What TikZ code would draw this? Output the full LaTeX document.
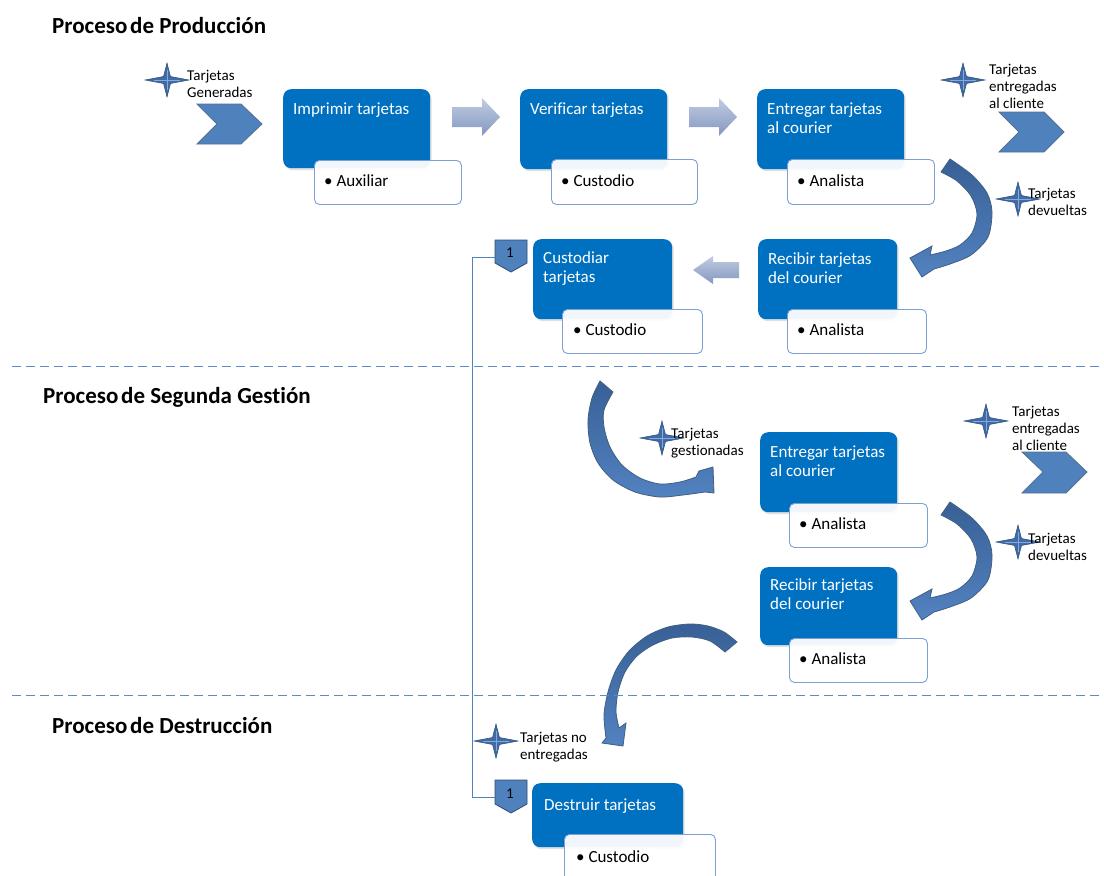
\documentclass[tikz,border=0pt]{standalone}
\usepackage{fontspec}
\setmainfont{Carlito}[Ligatures=CommonOff]
\usetikzlibrary{shadows}
\definecolor{boxblue}{RGB}{0,112,192}
\definecolor{subborder}{RGB}{125,160,210}
\definecolor{accent}{RGB}{79,129,189}
\definecolor{accentdark}{RGB}{44,77,117}
\definecolor{arrowtop}{RGB}{192,204,226}
\definecolor{arrowbot}{RGB}{132,151,190}
\definecolor{dashblue}{RGB}{91,139,201}
\definecolor{starmid}{RGB}{64,106,168}
\definecolor{starlight}{RGB}{150,185,232}
\definecolor{curvetop}{RGB}{56,96,150}
\definecolor{curvebot}{RGB}{82,130,192}
\tikzset{
  mainbox/.style={fill=boxblue, rounded corners=8pt, inner sep=0, anchor=north west,
    drop shadow={shadow xshift=1.5pt,shadow yshift=-2pt,opacity=0.25}},
  subbox/.style={fill=white, fill opacity=0.94, draw=subborder, line width=0.9pt,
    rounded corners=5pt, inner sep=0, anchor=north west},
  boxtext/.style={text=white, font=\fontsize{17}{19}\selectfont, align=left, anchor=base west, inner sep=0},
  bul/.style={font=\fontsize{17}{19}\selectfont, anchor=base west, inner sep=0},
  lbl/.style={font=\fontsize{15}{17}\selectfont, align=left, anchor=base west, inner sep=0},
  heading/.style={font=\bfseries\fontsize{23}{27}\selectfont, anchor=base west, inner sep=0},
  blockarrow/.style={top color=arrowtop, bottom color=arrowbot, draw=none},
  chev/.style={fill=accent, draw=accentdark!80, line width=0.8pt},
  marker/.style={fill=accent, draw=accentdark, line width=0.8pt},
  starsh/.style={fill=starmid, draw=accentdark, line width=0.5pt},
  starglow/.style={draw=starlight, line width=0.7pt, opacity=0.8},
  curvearrow/.style={top color=curvetop, bottom color=curvebot, draw=accentdark!90, line width=0.8pt},
  sepline/.style={draw=dashblue, line width=1pt, dash pattern=on 9pt off 5pt},
  linkline/.style={draw=accent, line width=0.9pt},
}
\newcommand{\fourstar}[2]{%
  \begin{scope}[shift={(#1,#2)}]
    \path[starsh] (-22,0) -- (-3.5,-3.5) -- (0,-17) -- (3.5,-3.5) -- (22,0) -- (3.5,3.5) -- (0,17) -- (-3.5,3.5) -- cycle;
    \path[starglow] (-13,0) -- (13,0) (0,-10) -- (0,10);
  \end{scope}}
\begin{document}
\begin{tikzpicture}[x=1pt,y=-1pt]
\useasboundingbox (0,0) rectangle (1104,876);

% headings
\node[heading] (h1) at (52,33) {Proceso\hspace{0.12em}de Producción};
\node[heading] (h2) at (43,403) {Proceso\hspace{0.12em}de Segunda Gestión};
\node[heading] (h3) at (52,733) {Proceso\hspace{0.12em}de Destrucción};

% chevrons
\path[chev] (197,104) -- (241,104) -- (262,124) -- (241,144) -- (197,144) -- (217,124) -- cycle;
\path[chev] (999,112) -- (1044,112) -- (1064,132) -- (1044,152) -- (999,152) -- (1019,132) -- cycle;
\path[chev] (1022,452) -- (1066,452) -- (1087,472) -- (1066,493) -- (1022,493) -- (1043,472) -- cycle;

% stars
\fourstar{167}{80}
\fourstar{963}{80}
\fourstar{1018}{199}
\fourstar{662}{438}
\fourstar{986}{421}
\fourstar{1018}{542}
\fourstar{496}{741}

% labels (anchor = baseline of last line)
\node[lbl] (l1) at (187,97) {Tarjetas\\Generadas};
\node[lbl] (l2) at (989,108) {Tarjetas\\entregadas\\al cliente};
\node[lbl] (l3) at (1028,215) {Tarjetas\\devueltas};
\node[lbl] (l4) at (671,455) {Tarjetas\\gestionadas};
\node[lbl] (l5) at (1012,450) {Tarjetas\\entregadas\\al cliente};
\node[lbl] (l6) at (1028,560) {Tarjetas\\devueltas};
\node[lbl] (l7) at (520,759) {Tarjetas no\\entregadas};

% block arrows
\path[blockarrow] (452,107) -- (482,107) -- (482,98) -- (500,117) -- (482,136) -- (482,127) -- (452,127) -- cycle;
\path[blockarrow] (689,107) -- (719,107) -- (719,98) -- (737,117) -- (719,136) -- (719,127) -- (689,127) -- cycle;
\path[blockarrow] (739,262) -- (713,262) -- (713,256) -- (693,270) -- (713,284) -- (713,278) -- (739,278) -- cycle;

% boxes
\node[mainbox, minimum width=147pt, minimum height=79pt] (b1) at (283,89) {};
\node[subbox, minimum width=147pt, minimum height=44pt] (s1) at (314,160) {};
\node[boxtext] (t1) at (293,114) {Imprimir tarjetas};
\node[bul] (u1) at (324,186) {• Auxiliar};

\node[mainbox, minimum width=147pt, minimum height=80pt] (b2) at (520,89) {};
\node[subbox, minimum width=146pt, minimum height=45pt] (s2) at (551,159) {};
\node[boxtext] (t2) at (530,114) {Verificar tarjetas};
\node[bul] (u2) at (561,186) {• Custodio};

\node[mainbox, minimum width=147pt, minimum height=80pt] (b3) at (757,89) {};
\node[subbox, minimum width=147pt, minimum height=45pt] (s3) at (787,159) {};
\node[boxtext] (t3) at (767,133) {Entregar tarjetas\\al courier};
\node[bul] (u3) at (797,186) {• Analista};

\node[mainbox, minimum width=139pt, minimum height=80pt] (b4) at (533,239) {};
\node[subbox, minimum width=140pt, minimum height=44pt] (s4) at (562,309) {};
\node[boxtext] (t4) at (543,282) {Custodiar\\tarjetas};
\node[bul] (u4) at (573,335) {• Custodio};

\node[mainbox, minimum width=139pt, minimum height=80pt] (b5) at (758,239) {};
\node[subbox, minimum width=139pt, minimum height=44pt] (s5) at (787,309) {};
\node[boxtext] (t5) at (768,283) {Recibir tarjetas\\del courier};
\node[bul] (u5) at (797,335) {• Analista};

\node[mainbox, minimum width=137pt, minimum height=80pt] (b6) at (760,432) {};
\node[subbox, minimum width=138pt, minimum height=44pt] (s6) at (789,503) {};
\node[boxtext] (t6) at (770,476) {Entregar tarjetas\\al courier};
\node[bul] (u6) at (799,529) {• Analista};

\node[mainbox, minimum width=137pt, minimum height=78pt] (b7) at (760,567) {};
\node[subbox, minimum width=138pt, minimum height=44pt] (s7) at (789,638) {};
\node[boxtext] (t7) at (770,609) {Recibir tarjetas\\del courier};
\node[bul] (u7) at (799,664) {• Analista};

\node[mainbox, minimum width=151pt, minimum height=64pt] (b8) at (532,783) {};
\node[subbox, minimum width=151pt, minimum height=50pt] (s8) at (564,834) {};
\node[boxtext] (t8) at (544,810) {Destruir tarjetas};
\node[bul] (u8) at (576,862) {• Custodio};

% markers "1" and link line
\path[marker] (495,240) -- (527,240) -- (527,263) -- (511,272) -- (495,263) -- cycle;
\node[font=\fontsize{15}{17}\selectfont, inner sep=0] (n1) at (510,253) {1};
\path[marker] (495,780) -- (527,780) -- (527,804) -- (511,813) -- (495,804) -- cycle;
\node[font=\fontsize{15}{17}\selectfont, inner sep=0] (n2) at (510,794) {1};
\coordinate (m1) at (495,257);
\coordinate (m2) at (495,797);
\draw[linkline] (m1) -- (472,257) -- (472,797) -- (m2);

% curved arrows
\path[curvearrow] plot[smooth] coordinates {(950,159) (972,175) (987,193) (992,212) (988,237) (971,255) (950,264) (934,269)}
  -- (922,277) -- (910,258) -- (932,246)
  -- plot[smooth] coordinates {(930,255) (946,251) (960,245) (972,233) (977,214) (971,196) (957,181) (941,172)} -- cycle;
\begin{scope}[shift={(0,343)}]
\path[curvearrow] plot[smooth] coordinates {(950,159) (972,175) (987,193) (992,212) (988,237) (971,255) (950,264) (934,269)}
  -- (922,277) -- (910,258) -- (932,246)
  -- plot[smooth] coordinates {(930,255) (946,251) (960,245) (972,233) (977,214) (971,196) (957,181) (941,172)} -- cycle;
\end{scope}
\path[curvearrow] plot[smooth] coordinates {(600,381) (592,398) (588,420) (590,443) (598,463) (613,480) (635,492) (660,497) (683,495) (705,492)}
  -- (714,493) -- (713,467) -- (699,471)
  -- plot[smooth] coordinates {(696,477) (680,482) (660,484) (640,478) (622,465) (610,447) (604,427) (604,410) (613,392)} -- cycle;
\path[curvearrow] plot[smooth] coordinates {(737,642) (724,632) (708,626) (690,624) (668,627) (647,636) (629,651) (616,670) (608,692) (604,715) (606,738)}
  -- (602,743) -- (623,746) -- (626,723)
  -- plot[smooth] coordinates {(619,728) (616,712) (618,692) (625,672) (637,656) (653,645) (672,638) (692,637) (710,641) (725,652)} -- cycle;

% separators
\draw[sepline] (12,366) -- (1104,366);
\draw[sepline] (12,695) -- (1104,695);
\end{tikzpicture}
\end{document}
